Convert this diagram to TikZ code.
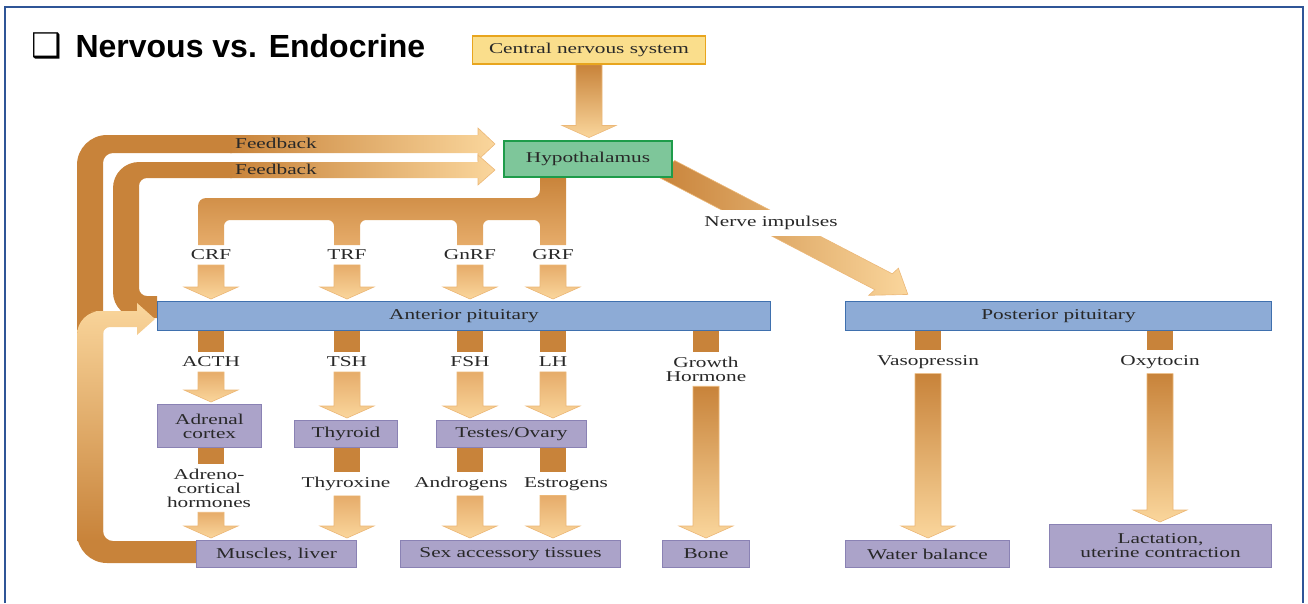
\documentclass[tikz,border=0pt]{standalone}
\usepackage{fontspec}
\setmainfont{Liberation Serif}
\newfontfamily\labelfont[FakeStretch=1.42]{Liberation Serif}
\newfontfamily\titlefont{Liberation Sans}
\newfontfamily\symbfont{DejaVu Sans}
\usetikzlibrary{calc}

\definecolor{arrdark}{RGB}{200,131,58}
\definecolor{arrmid}{RGB}{230,172,106}
\definecolor{arrlight}{RGB}{250,214,156}
\definecolor{arrline}{RGB}{236,184,120}
\definecolor{boxpurple}{RGB}{171,163,201}
\definecolor{edgepurple}{RGB}{138,130,180}
\definecolor{boxblue}{RGB}{141,171,214}
\definecolor{edgeblue}{RGB}{63,112,174}
\definecolor{boxgreen}{RGB}{126,198,154}
\definecolor{edgegreen}{RGB}{30,156,74}
\definecolor{boxyellow}{RGB}{250,222,140}
\definecolor{edgeyellow}{RGB}{232,165,30}
\definecolor{framecol}{RGB}{47,85,151}
\definecolor{txtcol}{RGB}{40,40,40}

\pgfdeclarelayer{back}
\pgfsetlayers{back,main}

% fat shaded arrow pointing down, from #2 to just above #3
\newcommand{\fatarrow}[3][arrmid]{%
	\shade[top color=#1, bottom color=arrlight, draw=arrline, line width=0.6pt]
		let \p1=(#2), \p2=(#3) in
		({\x1-13pt},\y1) -- ({\x1+13pt},\y1) -- ({\x1+13pt},{\y2+14pt}) -- ({\x1+27pt},{\y2+14pt}) --
		(\x1,{\y2+2pt}) -- ({\x1-27pt},{\y2+14pt}) -- ({\x1-13pt},{\y2+14pt}) -- cycle;}

% short dark piece below a box
\newcommand{\fatstub}[2]{%
	\fill[arrdark] let \p1=(#1), \p2=(#2) in ({\x1-13pt},\y1) rectangle ({\x1+13pt},\y2);}

\begin{document}
\begin{tikzpicture}[x=1pt, y=-1pt,
	box/.style={draw, line width=1pt, inner sep=0pt, align=center, text=txtcol,
		font=\labelfont\fontsize{15}{14}\selectfont},
	gland/.style={box, fill=boxpurple, draw=edgepurple},
	lbl/.style={inner sep=0pt, outer sep=5pt, align=center, text=txtcol,
		font=\labelfont\fontsize{15}{14}\selectfont},
	fb/.style={left color=arrdark, right color=arrlight}]

	\useasboundingbox (0,0) rectangle (1308,603);
	\draw[framecol, line width=2pt] (5,603) -- (5,7) -- (1303,7) -- (1303,603);

	\node[font=\symbfont\bfseries\fontsize{34}{34}\selectfont] (bullet) at (47,46) {❑};
	\node[anchor=base west, font=\titlefont\bfseries\fontsize{32}{32}\selectfont] (title) at (72,57) {Nervous vs. Endocrine};

	% boxes
	\node[box, fill=boxyellow, draw=edgeyellow, line width=1.5pt, minimum width=233pt, minimum height=28pt] (cns) at (589,50) {Central nervous system};
	\node[box, fill=boxgreen, draw=edgegreen, line width=2pt, minimum width=168pt, minimum height=36pt] (hyp) at (588,158.5) {Hypothalamus};
	\node[box, fill=boxblue, draw=edgeblue, minimum width=613pt, minimum height=29pt] (ap) at (464,316) {Anterior pituitary};
	\node[box, fill=boxblue, draw=edgeblue, minimum width=426pt, minimum height=29pt] (pp) at (1058.5,316) {Posterior pituitary};

	\node[gland, minimum width=104pt, minimum height=43pt] (adrenal) at (209.5,426) {Adrenal\\cortex};
	\node[gland, minimum width=103pt, minimum height=27pt] (thyroid) at (346,434) {Thyroid};
	\node[gland, minimum width=150pt, minimum height=27pt] (testes) at (511.5,434) {Testes/Ovary};

	\node[gland, minimum width=160pt, minimum height=27pt] (muscles) at (276.5,554) {Muscles, liver};
	\node[gland, minimum width=220pt, minimum height=27pt] (sexacc) at (510.5,554) {Sex accessory tissues};
	\node[gland, minimum width=87pt, minimum height=27pt] (bone) at (706,554) {Bone};
	\node[gland, minimum width=164pt, minimum height=27pt] (water) at (927.5,554) {Water balance};
	\node[gland, minimum width=222pt, minimum height=43pt] (lact) at (1160.5,546) {Lactation,\\uterine contraction};

	% hormone labels
	\node[lbl] (crf) at (211,255) {CRF};
	\node[lbl] (trf) at (347,255) {TRF};
	\node[lbl] (gnrf) at (470,255) {GnRF};
	\node[lbl] (grf) at (553,255) {GRF};

	\node[lbl] (acth) at (211,362) {ACTH};
	\node[lbl] (tsh) at (347,362) {TSH};
	\node[lbl] (fsh) at (470,362) {FSH};
	\node[lbl] (lh) at (553,362) {LH};
	\node[lbl] (gh) at (706,369) {Growth\\Hormone};
	\node[lbl] (vaso) at (928,362) {Vasopressin};
	\node[lbl] (oxy) at (1160,362) {Oxytocin};

	\node[lbl] (adrh) at (209,488) {Adreno-\\cortical\\hormones};
	\node[lbl] (thyrox) at (346,484) {Thyroxine};
	\node[lbl] (andro) at (461,484) {Androgens};
	\node[lbl] (estro) at (566,484) {Estrogens};

	\node[lbl] (fbupper) at (276,143) {Feedback};
	\node[lbl] (fblower) at (276,169) {Feedback};

	\coordinate (fbA) at ($(hyp.west)+(-8,-14.5)$);
	\coordinate (fbB) at ($(hyp.west)+(-8,11.5)$);
	\coordinate (loopTip) at ($(ap.west)+(-2,3)$);

	\begin{pgfonlayer}{back}

	% muscles, liver -> hypothalamus
	\fill[arrdark] ($(muscles.west)+(0,-13)$) -- (150,541) [rounded corners=10pt] -- (103,541) -- (103,153) -- (180,153) [sharp corners] --
		(232,153) -- (232,135) -- (180,135) [rounded corners=30pt] -- (77,135) -- (77,563) -- (150,563) [sharp corners] -- ($(muscles.west)+(0,9)$) -- cycle;
	\shade[fb] (230,135) -- (478,135) -- (478,128) -- (fbA) -- (478,160) -- (478,153) -- (230,153) -- cycle;
	\draw[arrline, line width=0.6pt] (478,135) -- (478,128) -- (fbA) -- (478,160) -- (478,153);

	% anterior pituitary -> hypothalamus
	\fill[arrdark] ($(ap.west)+(0,-20)$) -- (148,296) [rounded corners=8pt] -- (139,296) -- (139,178) -- (180,178) [sharp corners] --
		(232,178) -- (232,162) -- (180,162) [rounded corners=26pt] -- (113,162) -- (113,318) -- (135,318) [sharp corners] -- ($(ap.west)+(0,2)$) -- cycle;
	\shade[fb] (230,162) -- (478,162) -- (478,155) -- (fbB) -- (478,185) -- (478,178) -- (230,178) -- cycle;
	\draw[arrline, line width=0.6pt] (478,162) -- (478,155) -- (fbB) -- (478,185) -- (478,178);

	% muscles, liver -> anterior pituitary
	\shade[top color=arrlight, bottom color=arrdark] (103,541) -- (77,541) -- (77,420) [rounded corners=24pt] -- (77,311) -- (115,311) [sharp corners] --
		(137,311) -- (137,303) -- (loopTip) -- (137,335) -- (137,327) -- (115,327) [rounded corners=7pt] -- (103,327) -- (103,420) [sharp corners] -- cycle;

	% releasing factors
	\shade[top color=arrdark, bottom color=arrmid] (540,176) -- (566,176) -- (566,245) -- (540,245) -- (540,232) [rounded corners=6pt] --
		(540,220) -- (483,220) -- (483,232) [sharp corners] -- (483,245) -- (457,245) -- (457,232) [rounded corners=6pt] --
		(457,220) -- (360,220) -- (360,232) [sharp corners] -- (360,245) -- (334,245) -- (334,232) [rounded corners=6pt] --
		(334,220) -- (224,220) -- (224,232) [sharp corners] -- (224,245) -- (198,245) -- (198,232) [rounded corners=8pt] --
		(198,198) -- (540,198) -- (540,188) [sharp corners] -- cycle;

	\fatarrow[arrdark]{cns.south}{hyp.north}

	\fatarrow{crf.south}{ap.north -| crf}
	\fatarrow{trf.south}{ap.north -| trf}
	\fatarrow{gnrf.south}{ap.north -| gnrf}
	\fatarrow{grf.south}{ap.north -| grf}

	% nerve impulses
	\begin{scope}[shift={($(hyp.south east)+(-7,-9)$)}, xscale=1.45, rotate=-37.05]
		\shade[fb, draw=arrline, line width=0.6pt] (0,-10) -- (188,-10) -- (188,-17) -- (209,0) -- (188,17) -- (188,10) -- (0,10) -- cycle;
	\end{scope}

	% anterior pituitary hormones
	\fatstub{ap.south -| acth}{acth.north}
	\fatstub{ap.south -| tsh}{tsh.north}
	\fatstub{ap.south -| fsh}{fsh.north}
	\fatstub{ap.south -| lh}{lh.north}
	\fatstub{ap.south -| gh}{gh.north}

	\fatarrow{acth.south}{adrenal.north -| acth}
	\fatarrow{tsh.south}{thyroid.north -| tsh}
	\fatarrow{fsh.south}{testes.north -| fsh}
	\fatarrow{lh.south}{testes.north -| lh}
	\fatarrow[arrdark]{gh.south}{bone.north -| gh}

	% posterior pituitary hormones
	\fatstub{pp.south -| vaso}{vaso.north}
	\fatstub{pp.south -| oxy}{oxy.north}
	\fatarrow[arrdark]{vaso.south}{water.north -| vaso}
	\fatarrow[arrdark]{oxy.south}{lact.north -| oxy}

	% gland hormones
	\fatstub{adrenal.south -| acth}{adrh.north -| acth}
	\fatarrow{adrh.south -| acth}{muscles.north -| acth}
	\fatstub{thyroid.south -| tsh}{thyrox.north -| tsh}
	\fatarrow{thyrox.south -| tsh}{muscles.north -| tsh}
	\fatstub{testes.south -| fsh}{andro.north -| fsh}
	\fatarrow{andro.south -| fsh}{sexacc.north -| fsh}
	\fatstub{testes.south -| lh}{estro.north -| lh}
	\fatarrow{estro.south -| lh}{sexacc.north -| lh}

	\end{pgfonlayer}

	\node[lbl, fill=white, inner ysep=6pt, inner xsep=2pt, outer sep=0pt] (nerve) at (771,223) {Nerve impulses};

\end{tikzpicture}
\end{document}
